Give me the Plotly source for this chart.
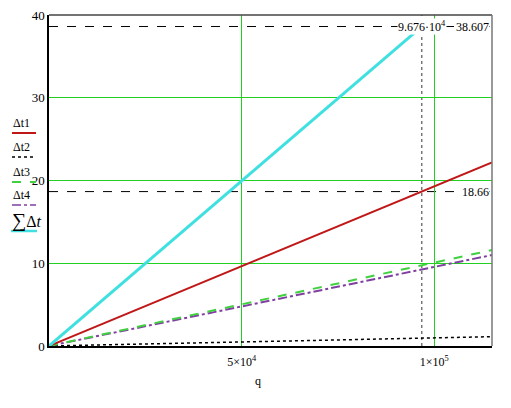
import plotly.graph_objects as go

# data
q = [0, 20000, 40000, 60000, 80000, 96760, 115000]
dt1 = [0, 3.857, 7.714, 11.571, 15.428, 18.66, 22.18]
dt2 = [0, 0.196, 0.392, 0.587, 0.783, 0.947, 1.126]
dt3 = [0, 2.015, 4.03, 6.046, 8.061, 9.75, 11.59]
dt4 = [0, 1.912, 3.824, 5.736, 7.648, 9.25, 10.99]
q_sum = [0, 20000, 40000, 60000, 80000, 96760]
dt_sum = [0, 7.98, 15.96, 23.94, 31.92, 38.607]
marker_q = 96760
marker_sum = 38.607
marker_dt1 = 18.66

x_ticks = [50000, 100000]
x_ticktext = ["5×10<sup>4</sup>", "1×10<sup>5</sup>"]
y_ticks = [0, 10, 20, 30, 40]

# page body has an 8px margin, so the figure is placed at (8, 8)
OFF = 8
W, H = 511, 408
L, R, T, B = 49, 492, 15, 346

def px(x):
    return (x - L) / (R - L)

def py(y):
    return (B - y) / (B - T)

serif = "Liberation Serif, Times New Roman, serif"
grid_green = "#22d022"

fig = go.Figure()
fig.add_trace(go.Scatter(x=q, y=dt2, mode="lines", line=dict(color="black", width=1.5, dash="dot")))
fig.add_trace(go.Scatter(x=q, y=dt4, mode="lines", line=dict(color="#8040a0", width=2, dash="dashdot")))
fig.add_trace(go.Scatter(x=q, y=dt3, mode="lines", line=dict(color="#40d040", width=2, dash="dash")))
fig.add_trace(go.Scatter(x=q, y=dt1, mode="lines", line=dict(color="#c01818", width=2)))
fig.add_trace(go.Scatter(x=q_sum, y=dt_sum, mode="lines", line=dict(color="#40e0e0", width=3)))

shapes = []
shapes.append(dict(type="line", xref="x", yref="y", x0=0, x1=115000, y0=marker_sum, y1=marker_sum,
                   line=dict(color="black", width=1, dash="dash"), layer="below"))
shapes.append(dict(type="line", xref="x", yref="y", x0=0, x1=115000, y0=marker_dt1, y1=marker_dt1,
                   line=dict(color="black", width=1, dash="dash"), layer="below"))
shapes.append(dict(type="line", xref="x", yref="y", x0=marker_q, x1=marker_q, y0=0, y1=40,
                   line=dict(color="#777777", width=1.5, dash="dot"), layer="below"))
shapes.append(dict(type="line", xref="paper", yref="paper", x0=0, x1=1, y0=1, y1=1,
                   line=dict(color="#444444", width=1.5)))
shapes.append(dict(type="line", xref="paper", yref="paper", x0=1, x1=1, y0=0, y1=1,
                   line=dict(color="#777777", width=1.5)))

annotations = []
legend = [
    ("Δt1", 123, 133, dict(color="#c01818", width=2, dash="solid")),
    ("Δt2", 147, 157, dict(color="black", width=1.5, dash="dot")),
    ("Δt3", 172, 182, dict(color="#40d040", width=2, dash="dash")),
    ("Δt4", 195, 205, dict(color="#8040a0", width=1.5, dash="dashdot")),
]
for label, ty, ly, ln in legend:
    annotations.append(dict(xref="paper", yref="paper", x=px(21), y=py(ty), text=label, showarrow=False,
                            font=dict(family=serif, size=12, color="black"), xanchor="center", yanchor="middle"))
    shapes.append(dict(type="line", xref="paper", yref="paper", x0=px(12), x1=px(36), y0=py(ly), y1=py(ly),
                       line=ln))
annotations.append(dict(xref="paper", yref="paper", x=px(10), y=py(221),
                        text="<span style='font-size:20px'>∑</span>Δ<i>t</i>", showarrow=False,
                        font=dict(family=serif, size=16, color="black"), xanchor="left", yanchor="middle"))
shapes.append(dict(type="line", xref="paper", yref="paper", x0=px(11), x1=px(37), y0=py(231), y1=py(231),
                   line=dict(color="#40e0e0", width=2.5)))

annotations.append(dict(xref="x", yref="y", x=marker_q, y=marker_sum, text="9.676·10<sup>4</sup>",
                        showarrow=False, bgcolor="white", borderpad=0,
                        font=dict(family=serif, size=12, color="black"), xanchor="center", yanchor="middle"))
annotations.append(dict(xref="paper", yref="y", x=px(490), y=marker_sum, text="38.607",
                        showarrow=False, bgcolor="white", borderpad=0,
                        font=dict(family=serif, size=12, color="black"), xanchor="right", yanchor="middle"))
annotations.append(dict(xref="paper", yref="y", x=px(490), y=marker_dt1, text="18.66",
                        showarrow=False, bgcolor="white", borderpad=0,
                        font=dict(family=serif, size=12, color="black"), xanchor="right", yanchor="middle"))
annotations.append(dict(xref="paper", yref="paper", x=px(258), y=py(381), text="q", showarrow=False,
                        font=dict(family=serif, size=12, color="black"), xanchor="center", yanchor="middle"))

fig.update_layout(
    width=W - OFF, height=H - OFF,
    margin=dict(l=L - OFF, r=W - R, t=T - OFF, b=H - B, pad=0),
    paper_bgcolor="white", plot_bgcolor="white",
    showlegend=False,
    shapes=shapes, annotations=annotations,
    font=dict(family=serif, size=12, color="black"),
)
fig.update_xaxes(range=[0, 115000], tickvals=x_ticks, ticktext=x_ticktext, automargin=False,
                 showgrid=True, gridcolor=grid_green, gridwidth=1.2,
                 showline=True, linecolor="black", linewidth=1.5, zeroline=False,
                 ticks="", ticklabelstandoff=4, ticklabeloverflow="allow",
                 tickfont=dict(family=serif, size=12))
fig.update_yaxes(range=[0, 40], tickvals=y_ticks, automargin=False,
                 showgrid=True, gridcolor=grid_green, gridwidth=1.2,
                 showline=True, linecolor="black", linewidth=1.5, zeroline=False,
                 ticks="", ticklabeloverflow="allow", tickfont=dict(family=serif, size=13))

fig.write_html("out.html")
